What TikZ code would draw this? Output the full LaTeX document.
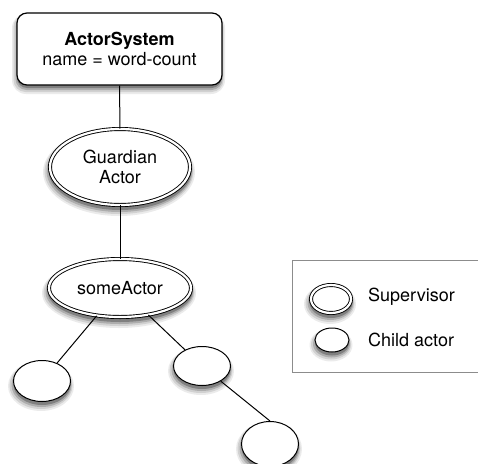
\documentclass[tikz,border=0pt]{standalone}
\usepackage{fontspec}
\setmainfont{TeX Gyre Heros}
\usetikzlibrary{shapes.geometric}

% soft shadow under an ellipse: centre x, centre y, x radius, y radius
\newcommand{\blurellipse}[4]{%
    \fill[black!8] (#1-1,#2+5) ellipse [x radius=#3+4, y radius=#4+4];
    \fill[black!18] (#1-1,#2+4.5) ellipse [x radius=#3+2.5, y radius=#4+2.5];
    \fill[black!32] (#1-0.5,#2+4) ellipse [x radius=#3+1, y radius=#4+1];
    \fill[black!50] (#1,#2+3.5) ellipse [x radius=#3-0.5, y radius=#4-0.5];
}
% soft shadow under a rounded box: corners x1, y1, x2, y2
\newcommand{\blurbox}[4]{%
    \fill[black!8, rounded corners=14pt] (#1-5,#2+1) rectangle (#3+3,#4+9);
    \fill[black!18, rounded corners=12pt] (#1-3.5,#2+2) rectangle (#3+1.5,#4+7);
    \fill[black!32, rounded corners=11pt] (#1-1.5,#2+3) rectangle (#3+0.5,#4+5);
    \fill[black!50, rounded corners=10pt] (#1,#2+4) rectangle (#3-0.5,#4+3);
}

\tikzset{
    sysbox/.style={draw, line width=1.2pt, rounded corners=10pt, fill=white, align=center,
        minimum width=205, minimum height=72, inner sep=0pt},
    child/.style={ellipse, draw, line width=1pt, fill=white, inner sep=0pt},
    supervisor/.style={child, double, double distance=2.2pt, line width=0.9pt, align=center},
    legendbox/.style={draw=black!45, line width=0.8pt, inner sep=0pt},
    label/.style={inner sep=0pt, anchor=west},
    link/.style={line width=1pt}
}

\begin{document}
\begin{tikzpicture}[x=1pt, y=-1pt, font=\fontsize{18}{20}\selectfont]
    \useasboundingbox (0,0) rectangle (478,463);

    % Legend frame
    \node[legendbox, minimum width=194, minimum height=112] (legend) at (389,316) {};

    % Shadows
    \blurbox{17}{13}{222}{85}
    \blurellipse{120}{167}{72}{40}
    \blurellipse{120}{288}{73}{31}
    \blurellipse{42}{381}{29}{21}
    \blurellipse{202}{366}{29}{20}
    \blurellipse{270}{444}{29}{23}
    \blurellipse{331}{299}{22}{16}
    \blurellipse{332}{340}{17.5}{12.5}

    % Actor system box
    \node[sysbox] (system) at (119.5,49) {\textbf{ActorSystem}\\name = word-count};

    % Guardian and someActor
    \node[supervisor, minimum width=140, minimum height=76] (guardian) at (120,167) {Guardian\\Actor};
    \node[supervisor, minimum width=142, minimum height=58] (some) at (120,288) {someActor};

    % Child actors
    \node[child, minimum width=57, minimum height=41] (left) at (42,381) {};
    \node[child, minimum width=57, minimum height=39] (right) at (202,366) {};
    \node[child, minimum width=57, minimum height=45] (grandchild) at (270,444) {};

    % Connectors
    \draw[link] (system) -- (guardian);
    \draw[link] (guardian) -- (some);
    \draw[link] (some) -- (left);
    \draw[link] (some) -- (right);
    \draw[link] (right) -- (grandchild.north);

    % Legend entries
    \node[supervisor, minimum width=40, minimum height=28] (legsup) at (331,299) {};
    \node[label] (legsuptext) at (368,297) {Supervisor};
    \node[child, minimum width=34, minimum height=24] (legchild) at (332,340) {};
    \node[label] (legchildtext) at (368,340) {Child actor};

\end{tikzpicture}
\end{document}
